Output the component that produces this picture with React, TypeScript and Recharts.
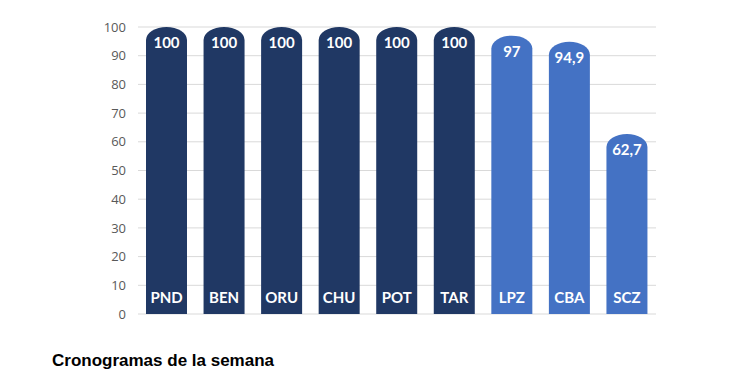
import { BarChart, Bar, CartesianGrid, XAxis, YAxis, LabelList, Cell } from "recharts";

const categories = ["PND", "BEN", "ORU", "CHU", "POT", "TAR", "LPZ", "CBA", "SCZ"];
const values = [100, 100, 100, 100, 100, 100, 97, 94.9, 62.7];
const highlighted = [false, false, false, false, false, false, true, true, true];
const yTicks = [0, 10, 20, 30, 40, 50, 60, 70, 80, 90, 100];

const data = categories.map((name, i) => ({ name, value: values[i], light: highlighted[i] }));

const DARK = "#203864";
const LIGHT = "#4472C4";

const formatValue = (v: number) => String(v).replace(".", ",");

// bar with an elliptical cap, like the rounded-top bars in the source
const CapBar = (props: any) => {
  const { x, y, width, height, fill } = props;
  const rx = width / 2;
  const ry = Math.min(13, height);
  const d = `M${x},${y + height} L${x},${y + ry} A${rx},${ry} 0 0 1 ${x + width},${y + ry} L${x + width},${y + height} Z`;
  return <path d={d} fill={fill} />;
};

const ValueLabel = (props: any) => {
  const { x, y, width, value } = props;
  return (
    <text
      x={x + width / 2}
      y={y + 15}
      textAnchor="middle"
      dominantBaseline="central"
      fill="#ffffff"
      fontFamily="Lato, 'Open Sans', sans-serif"
      fontWeight={700}
      fontSize={15}
    >
      {formatValue(value)}
    </text>
  );
};

const NameLabel = (props: any) => {
  const { x, y, width, height, value } = props;
  return (
    <text
      x={x + width / 2}
      y={y + height - 17}
      textAnchor="middle"
      dominantBaseline="central"
      fill="#ffffff"
      fontFamily="Lato, 'Open Sans', sans-serif"
      fontWeight={700}
      fontSize={15}
    >
      {value}
    </text>
  );
};

export default function App() {
  return (
    <div style={{ position: "absolute", left: 0, top: 0, width: 734, height: 386, background: "#fff" }}>
      <BarChart
        width={734}
        height={340}
        data={data}
        margin={{ top: 27, right: 78, bottom: 26, left: 98 }}
        barSize={41}
      >
        <CartesianGrid vertical={false} stroke="#d9d9d9" />
        <XAxis dataKey="name" hide />
        <YAxis
          width={40}
          domain={[0, 100]}
          ticks={yTicks}
          axisLine={false}
          tickLine={false}
          tickSize={0}
          tickMargin={12}
          tick={{ fill: "#595959", fontSize: 13, fontFamily: "'Open Sans', Lato, sans-serif" }}
          interval={0}
        />
        <Bar dataKey="value" shape={<CapBar />} isAnimationActive={false}>
          {data.map((d) => (
            <Cell key={d.name} fill={d.light ? LIGHT : DARK} />
          ))}
          <LabelList dataKey="value" content={<ValueLabel />} />
          <LabelList dataKey="name" content={<NameLabel />} />
        </Bar>
      </BarChart>
      <div
        style={{
          position: "absolute",
          left: 52,
          top: 351,
          fontFamily: "'Liberation Sans', Arial, sans-serif",
          fontWeight: 700,
          fontSize: 17,
          color: "#000",
        }}
      >
        Cronogramas de la semana
      </div>
    </div>
  );
}
